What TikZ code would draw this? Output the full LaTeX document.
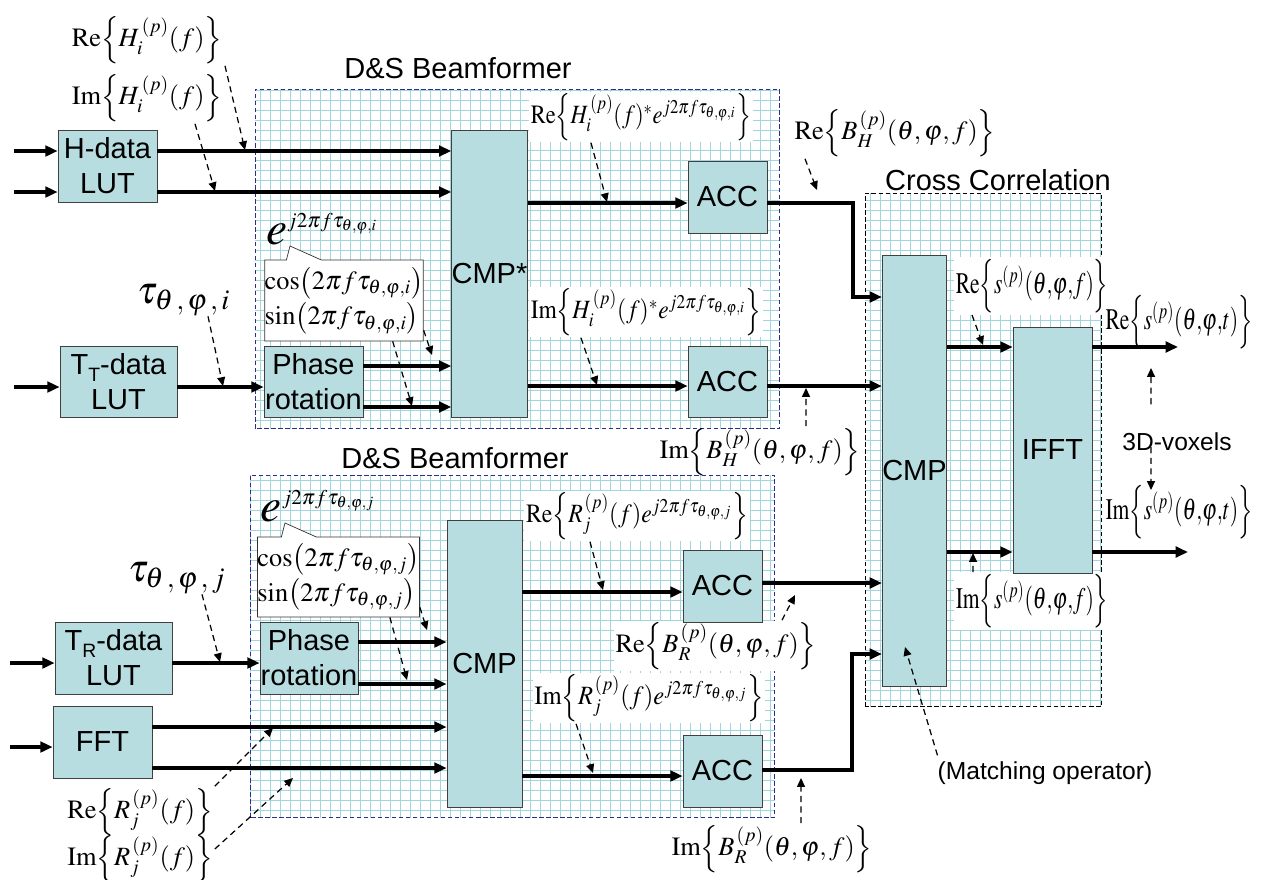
\documentclass[tikz,border=0pt]{standalone}
\usepackage{mathptmx}
\usepackage{fontspec}
\setmainfont{Liberation Serif}
\setsansfont{Liberation Sans}
\usepackage{graphicx}
\usepackage{tikz}
\usetikzlibrary{arrows.meta, positioning, shapes.callouts}

\definecolor{boxfill}{RGB}{183,221,224}
\definecolor{meshcol}{RGB}{160,214,220}
\definecolor{dashblue}{RGB}{45,45,140}

\newcommand{\Tsub}[1]{T\raisebox{-0.45ex}{\fontsize{11}{11}\selectfont #1}}
\newcommand{\cpart}[2]{\mathrm{#1}\Bigl\{#2\Bigr\}}
\newcommand{\expo}[1]{e^{\mbox{\fontsize{12}{12}\selectfont$j2\pi f\tau_{\theta,\varphi,#1}$}}}

\begin{document}
\begin{tikzpicture}[
    x=0.02cm, y=-0.02cm,
    block/.style={rectangle, draw=black!75, fill=boxfill, align=center, inner sep=0pt, font=\sffamily\fontsize{16.5}{20}\selectfont},
    region/.style={rectangle, fill=white, inner sep=0pt, anchor=north west},
    mesh/.style={draw=meshcol, line width=0.6pt, step=0.2cm, shift={(0.5,0.5)}},
    title/.style={font=\sffamily\fontsize{16.5}{20}\selectfont},
    eq/.style={inner sep=1pt, font=\fontsize{15}{17}\selectfont},
    eqbox/.style={eq, fill=white},
    bigeq/.style={inner sep=0pt, font=\fontsize{22}{24}\selectfont},
    callbox/.style={rectangle callout, draw=black!80, fill=white, align=left, inner sep=0pt, callout pointer width=0.7cm, font=\fontsize{15}{20}\selectfont},
    arrow/.style={-{Triangle[length=7pt, width=6pt]}, line width=1.8pt},
    note/.style={-{Triangle[length=5pt, width=4.5pt]}, dash pattern=on 3.5pt off 2.5pt, line width=0.7pt},
]
    \useasboundingbox (0,0) rectangle (1263,879);

    % regions
    \node[region, minimum width=10.48cm, minimum height=6.78cm] (bfH) at (255,89) {};
    \node[region, minimum width=10.48cm, minimum height=6.84cm] (bfR) at (250,475) {};
    \node[region, minimum width=4.72cm, minimum height=10.26cm] (xcorr) at (865,193) {};
    \foreach \r/\c in {bfH/dashblue, bfR/dashblue, xcorr/black} {
        \draw[mesh] (\r.south west) grid (\r.north east);
        \draw[\c, dash pattern=on 2.5pt off 1.5pt] (\r.south west) rectangle (\r.north east);
    }
    \node[title] (tbfH) at (458,68) {D\&S Beamformer};
    \node[title] (tbfR) at (455,458) {D\&S Beamformer};
    \node[title] (txc) at (998,180) {Cross Correlation};

    % labels
    \node[eq] (reH) at (147,40) {$\cpart{Re}{H_i^{\,(p)}(f)}$};
    \node[eq] (imH) at (147,98) {$\cpart{Im}{H_i^{\,(p)}(f)}$};
    \node[bigeq] (tauI) at (184,300) {$\tau_{\theta\,,\,\varphi\,,\,i}$};
    \node[callbox, minimum width=3.16cm, minimum height=1.62cm, callout absolute pointer={(290,246)}] (csI) at (344,300.5)
        {$\cos\!\left(2\pi f\tau_{\theta,\varphi,i}\right)$\\$\sin\!\left(2\pi f\tau_{\theta,\varphi,i}\right)$};
    \node[inner sep=0pt, font=\fontsize{27}{29}\selectfont] (ejI) at (322,229) {$\expo{i}$};
    \node[eqbox] (reHe) at (641,117) {\scalebox{0.85}[1]{$\cpart{Re}{H_i^{\,(p)}(f)^{*}e^{j2\pi f\tau_{\theta,\varphi,i}}}$}};
    \node[eqbox] (imHe) at (646,312) {\scalebox{0.89}[1]{$\cpart{Im}{H_i^{\,(p)}(f)^{*}e^{j2\pi f\tau_{\theta,\varphi,i}}}$}};
    \node[eq] (reBH) at (895,133) {$\cpart{Re}{B_H^{\,(p)}(\theta,\varphi,f)}$};
    \node[eq] (imBH) at (760,452) {$\cpart{Im}{B_H^{\,(p)}(\theta,\varphi,f)}$};

    \node[bigeq] (tauJ) at (177,578) {$\tau_{\theta\,,\,\varphi\,,\,j}$};
    \node[callbox, minimum width=3.14cm, minimum height=1.6cm, callout absolute pointer={(285,523)}] (csJ) at (338.5,577)
        {$\cos\!\left(2\pi f\tau_{\theta,\varphi,j}\right)$\\$\sin\!\left(2\pi f\tau_{\theta,\varphi,j}\right)$};
    \node[inner sep=0pt, font=\fontsize{27}{29}\selectfont] (ejJ) at (318,506) {$\expo{j}$};
    \node[eqbox] (reRe) at (637,516) {\scalebox{0.9}[1]{$\cpart{Re}{R_j^{\,(p)}(f)e^{j2\pi f\tau_{\theta,\varphi,j}}}$}};
    \node[eqbox] (imRe) at (649,698) {\scalebox{0.93}[1]{$\cpart{Im}{R_j^{\,(p)}(f)e^{j2\pi f\tau_{\theta,\varphi,j}}}$}};
    \node[eqbox] (reBR) at (716,646) {$\cpart{Re}{B_R^{\,(p)}(\theta,\varphi,f)}$};
    \node[eq] (imBR) at (772,849) {$\cpart{Im}{B_R^{\,(p)}(\theta,\varphi,f)}$};
    \node[eq] (reRf) at (140,812) {$\cpart{Re}{R_j^{\,(p)}(f)}$};
    \node[eq] (imRf) at (140,859) {$\cpart{Im}{R_j^{\,(p)}(f)}$};

    \node[eqbox, font=\fontsize{17}{19}\selectfont] (reSf) at (1032,286) {\scalebox{0.72}[1]{$\cpart{Re}{s^{(p)}(\theta{,}\varphi{,}f)}$}};
    \node[eqbox, font=\fontsize{17}{19}\selectfont] (imSf) at (1032,601) {\scalebox{0.72}[1]{$\cpart{Im}{s^{(p)}(\theta{,}\varphi{,}f)}$}};
    \node[eq, font=\fontsize{17}{19}\selectfont] (reSt) at (1179,322) {\scalebox{0.72}[1]{$\cpart{Re}{s^{(p)}(\theta{,}\varphi{,}t)}$}};
    \node[eq, font=\fontsize{17}{19}\selectfont] (imSt) at (1179,512) {\scalebox{0.72}[1]{$\cpart{Im}{s^{(p)}(\theta{,}\varphi{,}t)}$}};
    \node[font=\sffamily\fontsize{14}{16}\selectfont] (vox) at (1177,442) {3D-voxels};
    \node[font=\sffamily\fontsize{14}{16}\selectfont] (match) at (1045,773) {(Matching operator)};

    % blocks
    \node[block, minimum width=1.98cm, minimum height=1.44cm] (hlut) at (107.5,166) {H-data\\LUT};
    \node[block, minimum width=2.34cm, minimum height=1.42cm] (ttlut) at (118.5,381.5) {\Tsub{T}-data\\LUT};
    \node[block, minimum width=1.98cm, minimum height=1.42cm] (phT) at (313.5,381.5) {Phase\\rotation};
    \node[block, minimum width=1.5cm, minimum height=5.74cm] (cmpH) at (489.5,273.5) {CMP*};
    \node[block, minimum width=1.58cm, minimum height=1.44cm] (accH1) at (727.5,197) {ACC};
    \node[block, minimum width=1.58cm, minimum height=1.42cm] (accH2) at (727.5,381.5) {ACC};
    \node[block, minimum width=2.34cm, minimum height=1.44cm] (trlut) at (113.5,658) {\Tsub{R}-data\\LUT};
    \node[block, minimum width=1.96cm, minimum height=1.44cm] (phR) at (309,658) {Phase\\rotation};
    \node[block, minimum width=1.98cm, minimum height=1.44cm] (fft) at (102.5,742) {FFT};
    \node[block, minimum width=1.5cm, minimum height=5.74cm] (cmpR) at (484.5,663.5) {CMP};
    \node[block, minimum width=1.58cm, minimum height=1.44cm] (accR1) at (722.5,586) {ACC};
    \node[block, minimum width=1.58cm, minimum height=1.44cm] (accR2) at (722.5,771) {ACC};
    \node[block, minimum width=1.22cm, minimum height=8.62cm] (cmpX) at (914.5,470.5) {CMP};
    \node[block, minimum width=1.58cm, minimum height=4.92cm] (ifft) at (1052.5,450) {IFFT};

    % signal levels
    \coordinate (inH1) at (14,151);
    \coordinate (inH2) at (14,192);
    \coordinate (inT) at (14,387);
    \coordinate (inR) at (10,663);
    \coordinate (inF) at (10,747);
    \coordinate (lvP1) at (0,366);
    \coordinate (lvP2) at (0,407);
    \coordinate (lvA1) at (0,203);
    \coordinate (lvA2) at (0,386);
    \coordinate (lvQ1) at (0,642);
    \coordinate (lvQ2) at (0,684);
    \coordinate (lvF1) at (0,727);
    \coordinate (lvF2) at (0,768);
    \coordinate (lvB1) at (0,592);
    \coordinate (lvB2) at (0,776);
    \coordinate (lvC1) at (0,583);
    \coordinate (lvC2) at (0,770);
    \coordinate (lvX1) at (0,347);
    \coordinate (lvX2) at (0,552);
    \coordinate (bendH) at (853,297);
    \coordinate (bendR) at (852,654);
    \coordinate (outRe) at (1178,347);
    \coordinate (outIm) at (1188,552);

    \draw[arrow] (inH1) -- (hlut.west |- inH1);
    \draw[arrow] (inH2) -- (hlut.west |- inH2);
    \draw[arrow] (hlut.east |- inH1) -- (cmpH.west |- inH1);
    \draw[arrow] (hlut.east |- inH2) -- (cmpH.west |- inH2);
    \draw[arrow] (inT) -- (ttlut.west |- inT);
    \draw[arrow] (ttlut.east |- inT) -- (phT.west |- inT);
    \draw[arrow] (phT.east |- lvP1) -- (cmpH.west |- lvP1);
    \draw[arrow] (phT.east |- lvP2) -- (cmpH.west |- lvP2);
    \draw[arrow] (cmpH.east |- lvA1) -- (accH1.west |- lvA1);
    \draw[arrow] (cmpH.east |- lvA2) -- (accH2.west |- lvA2);
    \draw[arrow] (accH1.east |- lvA1) -| (bendH) -- (cmpX.west |- bendH);
    \draw[arrow] (accH2.east |- lvA2) -- (cmpX.west |- lvA2);

    \draw[arrow] (inR) -- (trlut.west |- inR);
    \draw[arrow] (trlut.east |- inR) -- (phR.west |- inR);
    \draw[arrow] (phR.east |- lvQ1) -- (cmpR.west |- lvQ1);
    \draw[arrow] (phR.east |- lvQ2) -- (cmpR.west |- lvQ2);
    \draw[arrow] (inF) -- (fft.west |- inF);
    \draw[arrow] (fft.east |- lvF1) -- (cmpR.west |- lvF1);
    \draw[arrow] (fft.east |- lvF2) -- (cmpR.west |- lvF2);
    \draw[arrow] (cmpR.east |- lvB1) -- (accR1.west |- lvB1);
    \draw[arrow] (cmpR.east |- lvB2) -- (accR2.west |- lvB2);
    \draw[arrow] (accR1.east |- lvC1) -- (cmpX.west |- lvC1);
    \draw[arrow] (accR2.east |- lvC2) -| (bendR) -- (cmpX.west |- bendR);

    \draw[arrow] (cmpX.east |- lvX1) -- (ifft.west |- lvX1);
    \draw[arrow] (cmpX.east |- lvX2) -- (ifft.west |- lvX2);
    \draw[arrow] (ifft.east |- outRe) -- (outRe);
    \draw[arrow] (ifft.east |- outIm) -- (outIm);

    % pointers
    \coordinate (pReH) at (245,150);
    \coordinate (pImH) at (215,191);
    \coordinate (pTauI) at (223,386);
    \coordinate (pCosI) at (432,355);
    \coordinate (pSinI) at (412,406);
    \coordinate (pReHe) at (607,202);
    \coordinate (pImHe) at (597,385);
    \coordinate (pReBH) at (817,190);
    \coordinate (pImBH) at (806,388);
    \coordinate (pReSf) at (983,345);
    \coordinate (pImSf) at (973,553);
    \coordinate (pVoxU) at (1151,368);
    \coordinate (pVoxD) at (1151,490);
    \coordinate (pTauJ) at (220,662);
    \coordinate (pCosJ) at (427,630);
    \coordinate (pSinJ) at (407,680);
    \coordinate (pReRf) at (273,728);
    \coordinate (pImRf) at (293,778);
    \coordinate (pReRe) at (603,590);
    \coordinate (pImRe) at (593,773);
    \coordinate (pReBR) at (795,595);
    \coordinate (pImBR) at (801,778);
    \coordinate (pMatch) at (905,647);

    \draw[note] ([xshift=1.56cm]reH.south) -- (pReH);
    \draw[note] ([xshift=0.96cm]imH.south) -- (pImH);
    \draw[note] ([xshift=0.48cm]tauI.south) -- (pTauI);
    \draw[note] ([yshift=0.22cm]csI.south east) -- (pCosI);
    \draw[note] ([xshift=-0.62cm]csI.south east) -- (pSinI);
    \draw[note] ([xshift=-1.0cm]reHe.south) -- (pReHe);
    \draw[note] ([xshift=-1.3cm]imHe.south) -- (pImHe);
    \draw[note] ([xshift=-1.8cm]reBH.south) -- (pReBH);
    \draw[note] ([xshift=0.92cm]imBH.north) -- (pImBH);
    \draw[note] ([xshift=-1.2cm]reSf.south) -- (pReSf);
    \draw[note] ([xshift=-1.18cm]imSf.north) -- (pImSf);
    \draw[note] ([xshift=-0.52cm, yshift=0.45cm]vox.north) -- (pVoxU);
    \draw[note] ([xshift=-0.52cm, yshift=0.2cm]vox.south) -- (pVoxD);
    \draw[note] ([xshift=0.5cm]tauJ.south) -- (pTauJ);
    \draw[note] ([yshift=0.2cm]csJ.south east) -- (pCosJ);
    \draw[note] ([xshift=-0.6cm]csJ.south east) -- (pSinJ);
    \draw[note] (reRf.north east) -- (pReRf);
    \draw[note] ([yshift=0.2cm]imRf.east) -- (pImRf);
    \draw[note] ([xshift=-0.94cm]reRe.south) -- (pReRe);
    \draw[note] ([xshift=-1.46cm]imRe.south) -- (pImRe);
    \draw[note] ([xshift=1.32cm]reBR.north) -- (pReBR);
    \draw[note] ([xshift=0.58cm]imBR.north) -- (pImBR);
    \draw[note] ([xshift=0.12cm]match.north west) -- (pMatch);
\end{tikzpicture}
\end{document}
